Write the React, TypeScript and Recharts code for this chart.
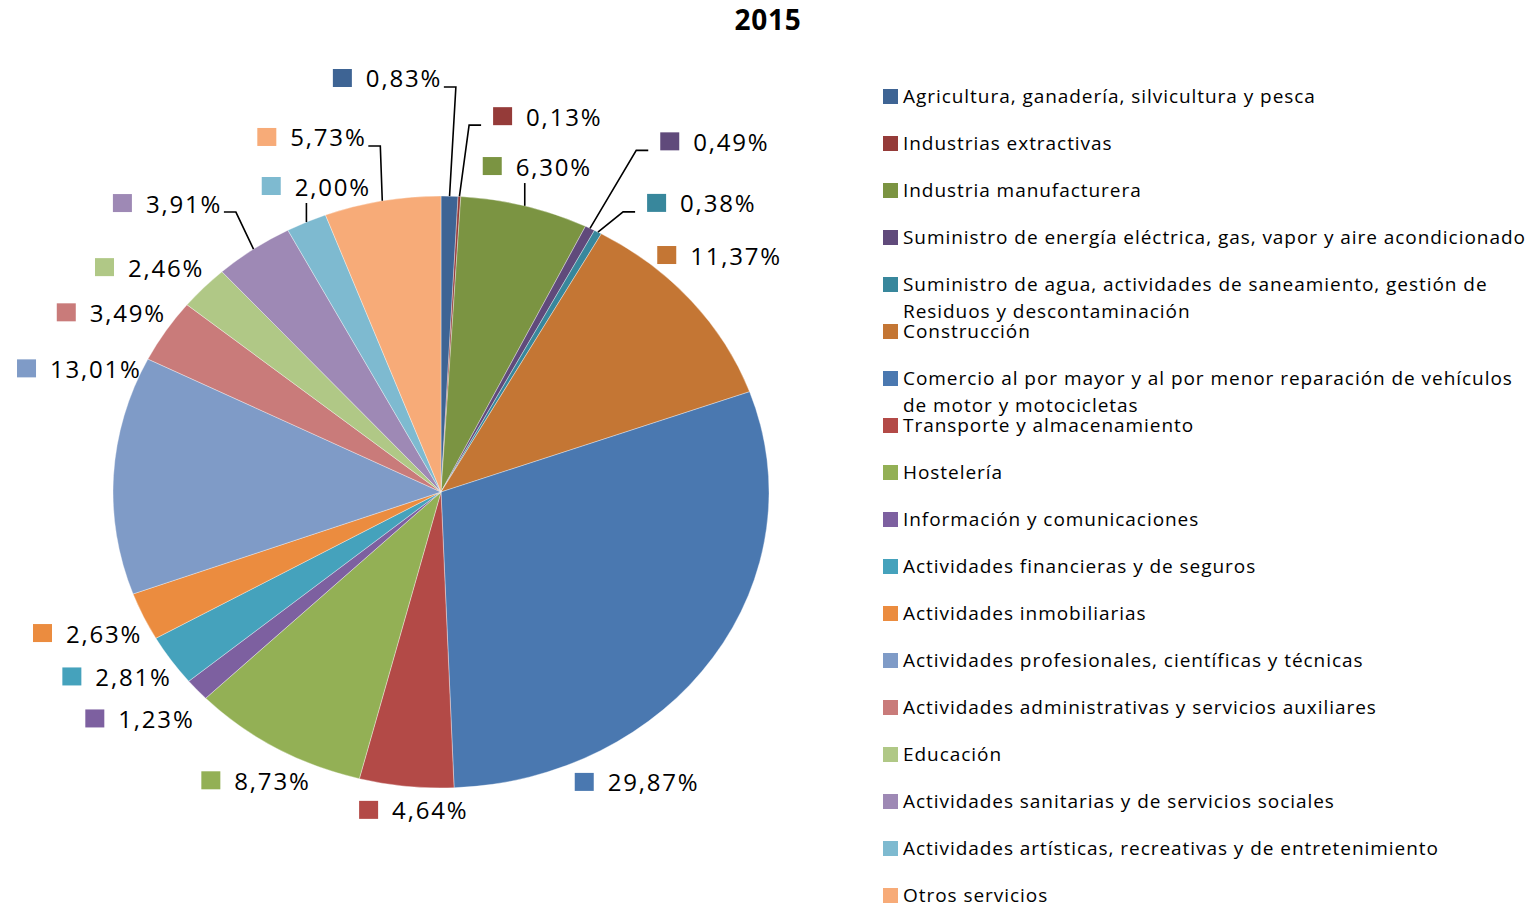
import React from "react";
import { PieChart, Pie, Legend } from "recharts";

// sectors in slice order (clockwise from 12 o'clock)
const sectors = [
  "Agricultura, ganadería, silvicultura y pesca",
  "Industrias extractivas",
  "Industria manufacturera",
  "Suministro de energía eléctrica, gas, vapor y aire acondicionado",
  "Suministro de agua, actividades de saneamiento, gestión de\nResiduos y descontaminación",
  "Construcción",
  "Comercio al por mayor y al por menor reparación de vehículos\nde motor y motocicletas",
  "Transporte y almacenamiento",
  "Hostelería",
  "Información y comunicaciones",
  "Actividades financieras y de seguros",
  "Actividades inmobiliarias",
  "Actividades profesionales, científicas y técnicas",
  "Actividades administrativas y servicios auxiliares",
  "Educación",
  "Actividades sanitarias y de servicios sociales",
  "Actividades artísticas, recreativas y de entretenimiento",
  "Otros servicios",
];

const shares = [
  0.83, 0.13, 6.3, 0.49, 0.38, 11.37, 29.87, 4.64, 8.73, 1.23, 2.81, 2.63,
  13.01, 3.49, 2.46, 3.91, 2.0, 5.73,
];

const colors = [
  "#3E6494", "#953B39", "#7B9442", "#604A7B", "#38879C", "#C47634",
  "#4A78B0", "#B34A47", "#93B055", "#7D60A0", "#45A2BC", "#EB8C3F",
  "#7F9BC7", "#C97B7A", "#B0C886", "#9E89B5", "#7EBAD0", "#F7AB78",
];

// label placement around the slice: angle nudge (deg, clockwise) and distance factor
const labelShift = [-8.1, 11.2, 0.2, 8.2, 10.6, -3, 24.6, -1.7, -0.1, 2.1, 2.4, 1, 17.5, -1.8, -3.1, -5.6, 4.1, -7.8];
const labelDist = [1.408, 1.311, 1.14, 1.45, 1.26, 1.168, 1.148, 1.077, 1.125, 1.194, 1.167, 1.177, 1.178, 1.173, 1.168, 1.283, 1.101, 1.262];
const leaderOn = [1, 1, 1, 1, 1, 0, 0, 0, 0, 0, 0, 0, 0, 0, 0, 1, 1, 1];

const pieData = sectors.map((name, i) => ({ name, value: shares[i], fill: colors[i] }));
const fmt = (v: number) => v.toFixed(2).replace(".", ",") + "%";

const RAD = Math.PI / 180;
const RX_RATIO = 328 / 296; // the original pie is slightly stretched horizontally
const FONT = "'Open Sans', sans-serif";

const EllipseSector = (props: any) => {
  const { cx, cy, outerRadius, startAngle, endAngle, fill } = props;
  const rx = outerRadius * RX_RATIO;
  const ry = outerRadius;
  const pt = (a: number) => [cx + rx * Math.cos(-a * RAD), cy + ry * Math.sin(-a * RAD)];
  const [x0, y0] = pt(startAngle);
  const [x1, y1] = pt(endAngle);
  const large = Math.abs(startAngle - endAngle) > 180 ? 1 : 0;
  const sweep = startAngle > endAngle ? 1 : 0;
  return (
    <path
      d={`M${cx},${cy} L${x0},${y0} A${rx},${ry} 0 ${large} ${sweep} ${x1},${y1} Z`}
      fill={fill}
      stroke="#ffffff"
      strokeOpacity={0.5}
      strokeWidth={0.7}
    />
  );
};

const renderLabel = (props: any) => {
  const { cx, cy, midAngle, outerRadius, index } = props;
  const rx = outerRadius * RX_RATIO;
  const ry = outerRadius;
  const theta0 = 90 - midAngle;
  const th = (theta0 + labelShift[index]) * RAD;
  const d = labelDist[index];
  const lx = cx + d * rx * Math.sin(th);
  const ly = cy - d * ry * Math.cos(th);
  const text = fmt(shares[index]);
  const w = 33 + text.length * 15.4;
  const left = lx - w / 2;
  const right = lx + w / 2;

  let leader = null;
  if (leaderOn[index]) {
    const px = cx + rx * Math.sin(theta0 * RAD);
    const py = cy - ry * Math.cos(theta0 * RAD);
    let pts: number[][];
    if (px > left + 10 && px < right - 10) {
      pts = [[px, ly + 17], [px, py]];
    } else if (px >= right - 10) {
      pts = [[right + 1, ly + 9], [right + 13, ly + 9], [px, py]];
    } else {
      pts = [[left - 12, ly + 9], [left - 24, ly + 9], [px, py]];
    }
    leader = (
      <polyline
        points={pts.map((p) => p.join(",")).join(" ")}
        fill="none"
        stroke="#000"
        strokeWidth={1.6}
      />
    );
  }

  return (
    <g key={`lbl-${index}`}>
      {leader}
      <rect x={left} y={ly - 9} width={19} height={18} fill={colors[index]} />
      <text
        x={left + 33}
        y={ly}
        dominantBaseline="central"
        fontFamily={FONT}
        fontSize={24}
        letterSpacing={1.8}
        fill="#000"
      >
        {text}
      </text>
    </g>
  );
};

const renderLegend = () => (
  <div style={{ position: "relative", width: 648, height: 830, fontFamily: FONT }}>
    {sectors.map((name, i) => (
      <div
        key={name}
        style={{
          position: "absolute",
          left: 0,
          top: 47 * i,
          display: "flex",
          alignItems: "flex-start",
          fontSize: 19,
          letterSpacing: 0.95,
          lineHeight: "27px",
          color: "#000",
          whiteSpace: "pre",
          textAlign: "left",
        }}
      >
        <span
          style={{
            display: "inline-block",
            flex: "none",
            width: 15,
            height: 15,
            marginTop: 6,
            marginRight: 5,
            background: colors[i],
          }}
        />
        <span>{name}</span>
      </div>
    ))}
  </div>
);

export default function App() {
  return (
    <div style={{ position: "absolute", left: 0, top: 0, width: 1530, height: 907, background: "#fff" }}>
      <div
        style={{
          position: "absolute",
          left: 0,
          width: 1536,
          top: 0,
          textAlign: "center",
          fontFamily: FONT,
          fontWeight: 700,
          fontSize: 28,
          letterSpacing: 0.8,
        }}
      >
        2015
      </div>
      <PieChart width={1530} height={907} margin={{ top: 0, right: 0, bottom: 0, left: 0 }}>
        <Pie
          data={pieData}
          dataKey="value"
          nameKey="name"
          cx={441}
          cy={492}
          outerRadius={296}
          startAngle={90}
          endAngle={-270}
          shape={EllipseSector}
          label={renderLabel}
          labelLine={false}
          isAnimationActive={false}
        />
        <Legend
          layout="vertical"
          align="right"
          verticalAlign="top"
          content={renderLegend}
          wrapperStyle={{ position: "absolute", left: 883, top: 83, width: 648 }}
        />
      </PieChart>
    </div>
  );
}
